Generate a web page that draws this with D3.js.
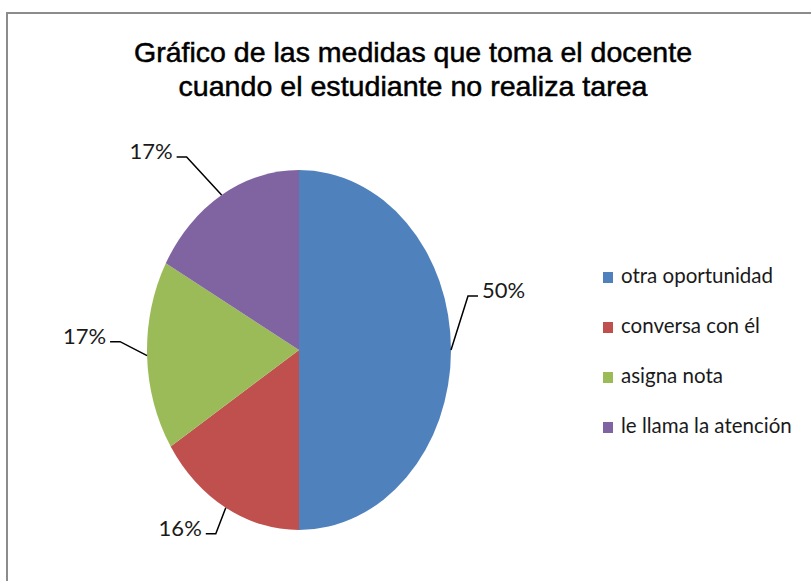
<!DOCTYPE html>
<html lang="es">
<head>
<meta charset="utf-8">
<title>Gráfico de las medidas que toma el docente</title>
<script src="https://cdn.jsdelivr.net/npm/d3@7"></script>
<style>
  html, body { margin: 0; padding: 0; background: #fff; }
  svg { display: block; }
</style>
</head>
<body>
<div id="chart"></div>
<script>
// data
const categories = ["otra oportunidad", "conversa con él", "asigna nota", "le llama la atención"];
const percentValues = [50, 16, 17, 17];
const percentLabels = ["50%", "16%", "17%", "17%"];
const sliceColors = ["#4F81BD", "#C0504D", "#9BBB59", "#8064A2"];
const titleLines = ["Gráfico de las medidas que toma el docente", "cuando el estudiante no realiza tarea"];

// layout
const width = 811, height = 581;
const cx = 299, cy = 350, rx = 152, ry = 180;
// where each leader line bends, relative to the slice edge
const elbowOffsets = [[17, -54], [-10, 26], [-27, -14], [-35, -38]];

const svg = d3.select("#chart")
  .append("svg")
    .attr("width", width)
    .attr("height", height);

// chart area border (runs off right and bottom)
svg.append("rect")
  .attr("x", 7).attr("y", 13)
  .attr("width", 840).attr("height", 620)
  .attr("fill", "#fff")
  .attr("stroke", "#8c8c8c")
  .attr("stroke-width", 2);

// title
const titleWidths = [558, 469];
svg.append("g").selectAll("text")
  .data(titleLines)
  .enter()
  .append("text")
    .attr("x", 413)
    .attr("y", (d, i) => 62 + i * 34)
    .attr("text-anchor", "middle")
    .attr("font-family", "'Liberation Sans', Arial, sans-serif")
    .attr("font-size", 28)
    .attr("fill", "#000")
    .attr("stroke", "#000")
    .attr("stroke-width", 0.5)
    .attr("textLength", (d, i) => titleWidths[i])
    .attr("lengthAdjust", "spacingAndGlyphs")
    .text(d => d);

// pie (drawn round, then stretched into the ellipse of the picture)
const pie = d3.pie().sort(null).value(d => d);
const arcs = pie(percentValues);
const arc = d3.arc().innerRadius(0).outerRadius(rx);

svg.append("g")
  .attr("transform", "translate(" + cx + "," + cy + ") scale(1," + (ry / rx) + ")")
  .selectAll("path")
  .data(arcs)
  .enter()
  .append("path")
    .attr("d", arc)
    .attr("fill", (d, i) => sliceColors[i]);

// leader lines + percentage labels
const labels = svg.append("g");
arcs.forEach(function(a, i) {
  const mid = (a.startAngle + a.endAngle) / 2;
  const ex = cx + rx * Math.sin(mid);
  const ey = cy - ry * Math.cos(mid);
  const bx = ex + elbowOffsets[i][0];
  const by = ey + elbowOffsets[i][1];
  const dir = Math.sin(mid) >= 0 ? 1 : -1;
  const tx = bx + dir * 10;

  labels.append("path")
    .attr("d", "M" + ex + "," + ey + "L" + bx + "," + by + "L" + tx + "," + by)
    .attr("fill", "none")
    .attr("stroke", "#000")
    .attr("stroke-width", 1.5);

  labels.append("text")
    .attr("x", tx + dir * 4)
    .attr("y", by + 2)
    .attr("text-anchor", dir > 0 ? "start" : "end")
    .attr("font-family", "Lato, 'Open Sans', sans-serif")
    .attr("font-size", 22)
    .attr("fill", "#1a1a1a")
    .text(percentLabels[i]);
});

// legend
const legend = svg.append("g")
  .selectAll("g")
  .data(categories)
  .enter()
  .append("g")
    .attr("transform", (d, i) => "translate(603," + (272 + i * 50) + ")");

legend.append("rect")
  .attr("width", 10).attr("height", 11)
  .attr("fill", (d, i) => sliceColors[i]);

legend.append("text")
  .attr("x", 18)
  .attr("y", 11)
  .attr("font-family", "Lato, 'Open Sans', sans-serif")
  .attr("font-size", 20.5)
  .attr("fill", "#1a1a1a")
  .text(d => d);
</script>
</body>
</html>
